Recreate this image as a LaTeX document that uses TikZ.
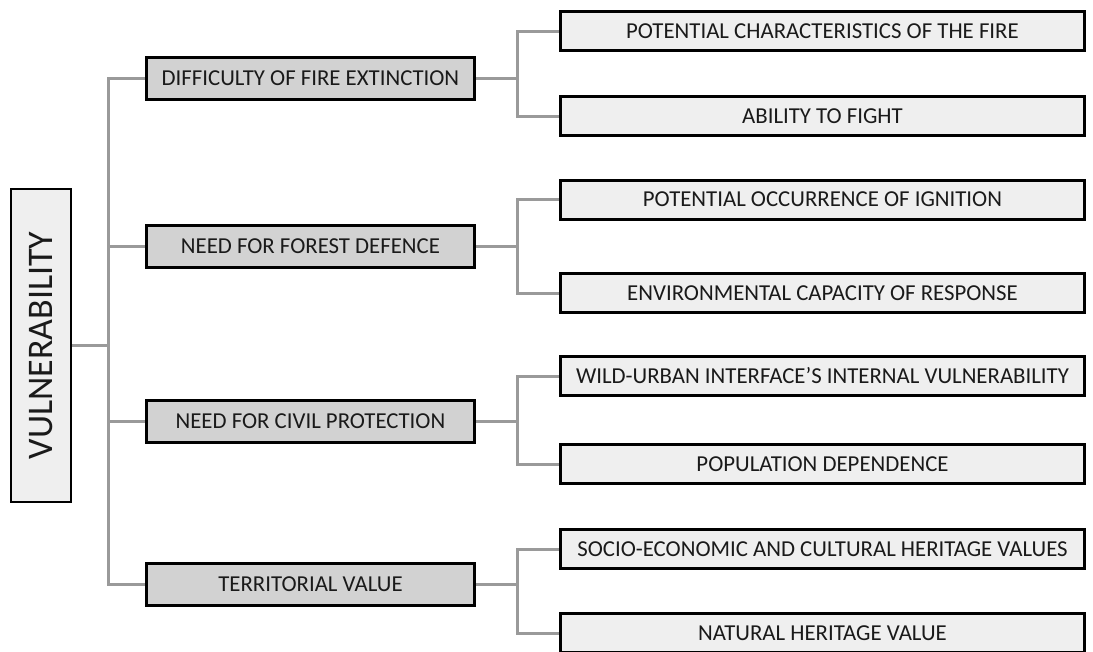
\documentclass[tikz,border=0pt]{standalone}
\usepackage{fontspec}
\setmainfont{Carlito}
\usetikzlibrary{backgrounds}
\definecolor{linegray}{HTML}{9A9A9A}
\definecolor{midfill}{HTML}{D2D2D2}
\definecolor{lightfill}{HTML}{EFEFEF}
\definecolor{ink}{HTML}{1A1A1A}
\tikzset{
  rootbox/.style={draw=black, line width=2pt, fill=lightfill, text=ink,
    minimum width=313pt, minimum height=60pt, inner sep=0pt,
    font=\fontsize{36}{36}\selectfont, rotate=90},
  groupbox/.style={draw=black, line width=3pt, fill=midfill, text=ink,
    minimum width=328pt, minimum height=42pt, inner sep=0pt,
    font=\fontsize{22.8}{24}\selectfont},
  itembox/.style={draw=black, line width=3pt, fill=lightfill, text=ink,
    minimum width=524pt, minimum height=39pt, inner sep=0pt,
    font=\fontsize{22.8}{24}\selectfont},
  conn/.style={draw=linegray, line width=3pt}
}
\begin{document}
\begin{tikzpicture}[x=1pt, y=-1pt]
\useasboundingbox (0,0) rectangle (1093,651);

% root
\node[rootbox] (v) at (41,345.5) {VULNERABILITY};

% first level
\node[groupbox] (g1) at (310.5,78)  {DIFFICULTY OF FIRE EXTINCTION};
\node[groupbox] (g2) at (310.5,246) {NEED FOR FOREST DEFENCE};
\node[groupbox] (g3) at (310.5,421) {NEED FOR CIVIL PROTECTION};
\node[groupbox] (g4) at (310.5,584) {TERRITORIAL VALUE};

% second level
\node[itembox] (i1) at (822.5,31)    {POTENTIAL CHARACTERISTICS OF THE FIRE};
\node[itembox] (i2) at (822.5,116)   {ABILITY TO FIGHT};
\node[itembox] (i3) at (822.5,199.5) {POTENTIAL OCCURRENCE OF IGNITION};
\node[itembox] (i4) at (822.5,293)   {ENVIRONMENTAL CAPACITY OF RESPONSE};
\node[itembox] (i5) at (822.5,376)   {WILD-URBAN INTERFACE’S INTERNAL VULNERABILITY};
\node[itembox] (i6) at (822.5,464)   {POPULATION DEPENDENCE};
\node[itembox] (i7) at (822.5,549)   {SOCIO-ECONOMIC AND CULTURAL HERITAGE VALUES};
\node[itembox] (i8) at (822.5,633)   {NATURAL HERITAGE VALUE};

% trunk and branch columns
\coordinate (tk) at (108,0);
\coordinate (bx) at (517,0);

\begin{scope}[on background layer]
  \draw[conn] (v.south) -- (v.south -| tk);
  \draw[conn] (g1.west) -- (g1.west -| tk) -- (g4.west -| tk) -- (g4.west);
  \draw[conn] (g2.west) -- (g2.west -| tk);
  \draw[conn] (g3.west) -- (g3.west -| tk);

  \draw[conn] (g1.east) -- (g1.east -| bx);
  \draw[conn] (i1.west) -- (i1.west -| bx) -- (i2.west -| bx) -- (i2.west);
  \draw[conn] (g2.east) -- (g2.east -| bx);
  \draw[conn] (i3.west) -- (i3.west -| bx) -- (i4.west -| bx) -- (i4.west);
  \draw[conn] (g3.east) -- (g3.east -| bx);
  \draw[conn] (i5.west) -- (i5.west -| bx) -- (i6.west -| bx) -- (i6.west);
  \draw[conn] (g4.east) -- (g4.east -| bx);
  \draw[conn] (i7.west) -- (i7.west -| bx) -- (i8.west -| bx) -- (i8.west);
\end{scope}
\end{tikzpicture}
\end{document}
